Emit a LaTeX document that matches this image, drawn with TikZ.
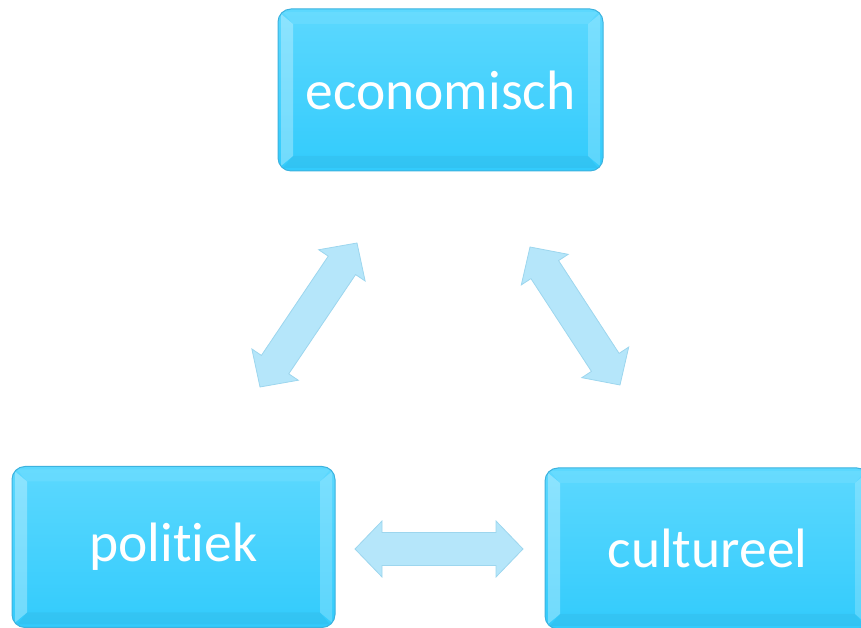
\documentclass[tikz,border=0pt]{standalone}
\usepackage{fontspec}
\setmainfont{Carlito}[Ligatures=NoCommon]
\usetikzlibrary{calc}
\definecolor{boxtop}{HTML}{5CD8FE}
\definecolor{boxbot}{HTML}{32CBFC}
\definecolor{boxline}{HTML}{3DB2DE}
\definecolor{arrfill}{HTML}{B5E6FA}
\definecolor{arrline}{HTML}{9DD6EE}
\newcommand\dblblockarrow[2]{%
  \fill[arrfill,draw=arrline,line width=0.8pt,line join=miter]
    (#1)
    -- ($(#1)!27pt!(#2)!28pt!90:(#2)$)
    -- ($(#1)!27pt!(#2)!16.5pt!90:(#2)$)
    -- ($(#2)!27pt!(#1)!16.5pt!-90:(#1)$)
    -- ($(#2)!27pt!(#1)!28pt!-90:(#1)$)
    -- (#2)
    -- ($(#2)!27pt!(#1)!28pt!90:(#1)$)
    -- ($(#2)!27pt!(#1)!16.5pt!90:(#1)$)
    -- ($(#1)!27pt!(#2)!16.5pt!-90:(#2)$)
    -- ($(#1)!27pt!(#2)!28pt!-90:(#2)$)
    -- cycle;}
\tikzset{
  bluebox/.style={rectangle, rounded corners=13pt, draw=boxline, line width=1pt,
    top color=boxtop, bottom color=boxbot, text=white,
    minimum width=325pt, minimum height=162pt, inner sep=0pt,
    font=\fontsize{55.5}{60}\selectfont,
    path picture={
      \fill[white,opacity=0.3,sharp corners]
        ([shift={(3pt,-5pt)}]path picture bounding box.north west)
        -- ([shift={(15pt,-15pt)}]path picture bounding box.north west)
        -- ([shift={(15pt,15pt)}]path picture bounding box.south west)
        -- ([shift={(3pt,5pt)}]path picture bounding box.south west) -- cycle;
      \fill[white,opacity=0.2,sharp corners]
        ([shift={(-3pt,-5pt)}]path picture bounding box.north east)
        -- ([shift={(-15pt,-15pt)}]path picture bounding box.north east)
        -- ([shift={(-15pt,15pt)}]path picture bounding box.south east)
        -- ([shift={(-3pt,5pt)}]path picture bounding box.south east) -- cycle;
      \fill[white,opacity=0.08,sharp corners]
        ([shift={(5pt,-3pt)}]path picture bounding box.north west)
        -- ([shift={(15pt,-15pt)}]path picture bounding box.north west)
        -- ([shift={(-15pt,-15pt)}]path picture bounding box.north east)
        -- ([shift={(-5pt,-3pt)}]path picture bounding box.north east) -- cycle;
      \fill[black,opacity=0.035,sharp corners]
        ([shift={(15pt,15pt)}]path picture bounding box.south west)
        -- ([shift={(-15pt,15pt)}]path picture bounding box.south east)
        -- ([shift={(-5pt,3pt)}]path picture bounding box.south east)
        -- ([shift={(5pt,3pt)}]path picture bounding box.south west) -- cycle;
    }}
}
\begin{document}
\begin{tikzpicture}[x=1pt,y=1pt]
\useasboundingbox (0,0) rectangle (861,628);
\clip (0,0) rectangle (861,628);
\node[bluebox] (eco) at (440.5,538) {economisch};
\node[bluebox, minimum width=323pt, minimum height=161pt] (pol) at (173.5,81) {politiek};
\node[bluebox, minimum height=161pt] (cul) at (707.5,79.5) {cultureel};
\coordinate (l1) at (260,241);
\coordinate (l2) at (357,385);
\coordinate (r1) at (530,381);
\coordinate (r2) at (620,243);
\coordinate (h1) at (355,79);
\coordinate (h2) at (523,79);
\dblblockarrow{l1}{l2}
\dblblockarrow{r1}{r2}
\dblblockarrow{h1}{h2}
\end{tikzpicture}
\end{document}
